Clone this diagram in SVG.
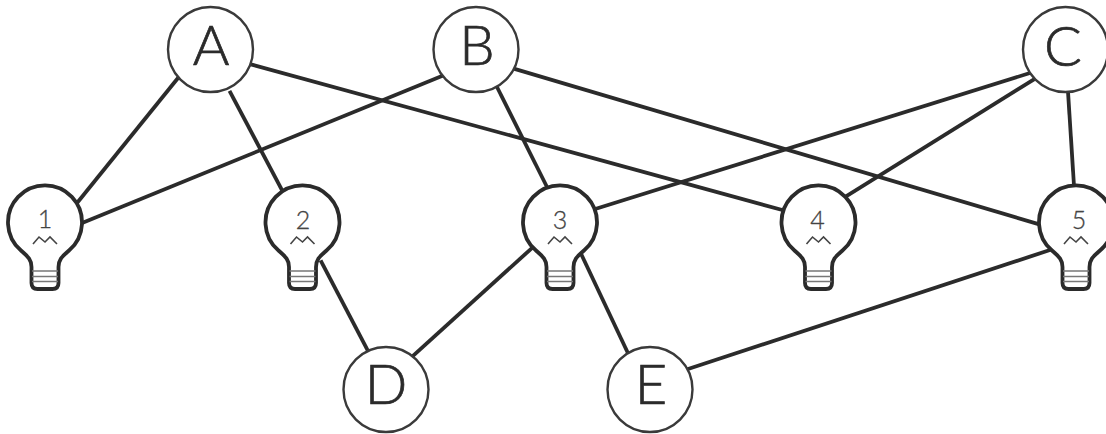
<svg xmlns="http://www.w3.org/2000/svg" width="1106" height="434" viewBox="0 0 1106 434">
<style>
.c{fill:#fff;stroke:#3a3a3a;stroke-width:2.4}
.big{font-family:"Lato","Open Sans",sans-serif;font-weight:300;font-size:56px;fill:#2b2b2b;stroke:#2b2b2b;stroke-width:.7;text-anchor:middle}
.num{font-family:"Lato","Open Sans",sans-serif;font-weight:300;font-size:25px;fill:#444;stroke:#444;stroke-width:.3;text-anchor:middle}
.b{fill:#fff;stroke:#2b2b2b;stroke-width:3.8;stroke-linejoin:round}
.t{fill:none;stroke:#777;stroke-width:1.6}
.f{fill:none;stroke:#444;stroke-width:1.6}
#links line{stroke:#2b2b2b;stroke-width:3.8}
</style>
<defs>
<g id="bulb">
<path class="b" d="M-13.5 44C-13.5 36 -18 33 -24 27.500A37 37 0 1 1 24 27.500C18 33 13.500 36 13.500 44V60Q13.500 66 7.500 66H-7.500Q-13.500 66 -13.500 60Z"/>
<path class="t" d="M-13 48H13M-13 53.500H13M-13 58.500H13"/>
<path class="f" d="M-12 21L-6 14L0 19L5 14L12 21"/>
</g>
</defs>
<rect width="1106" height="434" fill="#fff"/>
<g id="links">
<line x1="180" y1="75.500" x2="75" y2="205.500"/>
<line x1="229.500" y1="90.800" x2="284.500" y2="194.800"/>
<line x1="250" y1="64.100" x2="786" y2="211"/>
<line x1="445" y1="74.800" x2="79" y2="224.200"/>
<line x1="495.500" y1="84" x2="548.500" y2="190"/>
<line x1="512" y1="68.100" x2="1041" y2="224.900"/>
<line x1="1030" y1="73" x2="592" y2="210"/>
<line x1="1036" y1="78.100" x2="842" y2="198.900"/>
<line x1="1067.900" y1="90" x2="1074.200" y2="189"/>
<line x1="320.600" y1="260.300" x2="369.400" y2="353.700"/>
<line x1="535.500" y1="244.800" x2="410.500" y2="358.200"/>
<line x1="580.800" y1="253.300" x2="629.200" y2="355.700"/>
<line x1="1053" y1="249" x2="685" y2="370"/>
</g>
<g id="node-A"><circle class="c" cx="210.500" cy="49.500" r="42.500"/><text class="big" x="211" y="65">A</text></g>
<g id="node-B"><circle class="c" cx="476" cy="49.500" r="42.500"/><text class="big" x="477" y="64.500">B</text></g>
<g id="node-C"><circle class="c" cx="1065.500" cy="49.500" r="42.500"/><text class="big" x="1063" y="65.500">C</text></g>
<g id="node-D"><circle class="c" cx="386" cy="389.500" r="42.500"/><text class="big" x="386" y="403.500">D</text></g>
<g id="node-E"><circle class="c" cx="650" cy="389.500" r="42.500"/><text class="big" x="651" y="403.500">E</text></g>
<g id="bulb-1"><use href="#bulb" x="45" y="223"/><text class="num" x="45" y="228">1</text></g>
<g id="bulb-2"><use href="#bulb" x="302.500" y="223"/><text class="num" x="303" y="228.500">2</text></g>
<g id="bulb-3"><use href="#bulb" x="560" y="223"/><text class="num" x="560" y="228.500">3</text></g>
<g id="bulb-4"><use href="#bulb" x="818.500" y="223"/><text class="num" x="817.500" y="228.500">4</text></g>
<g id="bulb-5"><use href="#bulb" x="1076" y="223"/><text class="num" x="1079" y="228.500">5</text></g>
</svg>
